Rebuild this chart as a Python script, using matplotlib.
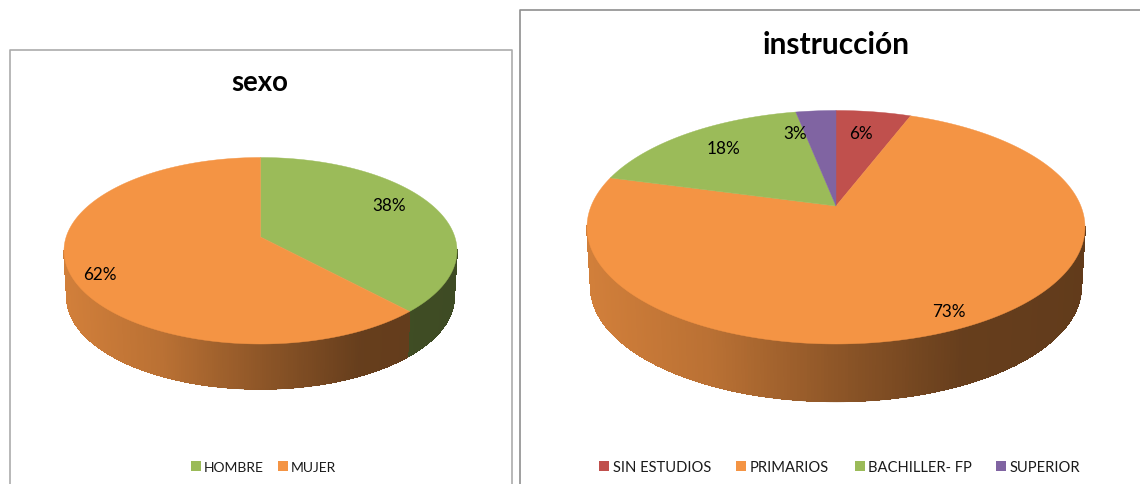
import numpy as np
import matplotlib
matplotlib.use('Agg')
import matplotlib.pyplot as plt
from matplotlib.collections import PolyCollection, LineCollection
from matplotlib.patches import Polygon, Rectangle
from matplotlib.colors import to_rgb

plt.rcParams['font.family'] = ['Lato', 'DejaVu Sans']

sexo_labels = ['HOMBRE', 'MUJER']
sexo_values = [38, 62]
sexo_colors = ['#9bbb59', '#f49444']

inst_labels = ['SIN ESTUDIOS', 'PRIMARIOS', 'BACHILLER- FP', 'SUPERIOR']
inst_values = [5.8, 73.4, 17.7, 3.1]
inst_colors = ['#c0504d', '#f49444', '#9bbb59', '#8064a2']

# brightness of the side wall, left to right over the pie's width
shade_pos = [0.0, 0.25, 0.5, 0.75, 1.0]
shade_val = [0.86, 0.76, 0.58, 0.42, 0.40]


def rim(theta, ax_x, ax_y, k, cx, cy, scale=1.0, dy=0.0):
    # circle seen in perspective, theta clockwise from 12 o'clock
    x = np.sin(theta)
    y = np.cos(theta)
    den = 1 + k * y
    return np.column_stack([cx + scale * ax_x * x / den, cy - scale * ax_y * y / den + dy])


def pie3d(ax, values, colors, cx, cy, rx, top, bottom, depth):
    k = (bottom - top) / (bottom + top)
    ax_y = top * (1 + k)
    ax_x = rx * np.sqrt(1 - k * k)
    edges = np.cumsum([0] + list(values)) / sum(values) * 2 * np.pi
    for i, col in enumerate(colors):
        # wall as thin strips so the colour can follow x
        th = np.linspace(edges[i], edges[i + 1], 400)
        th = th[np.cos(th) < -k + 0.01]  # front part only
        if len(th) < 2:
            continue
        upper = rim(th, ax_x, ax_y, k, cx, cy)
        lower = rim(th, ax_x, ax_y, k, cx, cy, scale=0.985, dy=depth)
        quads = np.stack([upper[:-1], upper[1:], lower[1:], lower[:-1]], axis=1)
        f = (quads[:, :, 0].mean(axis=1) - (cx - rx)) / (2 * rx)
        cols = np.outer(np.interp(f, shade_pos, shade_val), to_rgb(col))
        ax.add_collection(PolyCollection(quads, facecolors=cols, edgecolors=cols, linewidths=0.6,
                                         antialiaseds=False, zorder=2))
        # smooth the outer edge, the strips themselves are not antialiased
        segs = np.stack([lower[:-1], lower[1:]], axis=1)
        ax.add_collection(LineCollection(segs, colors=cols, linewidths=1.0, zorder=2))
    for i, col in enumerate(colors):
        th = np.linspace(edges[i], edges[i + 1], 300)
        pts = np.vstack([[cx, cy], rim(th, ax_x, ax_y, k, cx, cy)])
        ax.add_patch(Polygon(pts, closed=True, fc=col, ec=col, lw=0.3, zorder=3))


def legend(ax, labels, colors, box_x, text_x, y, size):
    for lab, col, bx, tx in zip(labels, colors, box_x, text_x):
        ax.add_patch(Rectangle((bx, y - 5), 10, 10, fc=col, ec='none', zorder=4))
        ax.text(tx, y + 1, lab, fontsize=size, color='#1a1a1a', va='center', ha='left', zorder=5)


fig = plt.figure(figsize=(11.4, 4.85), dpi=100)
ax = fig.add_axes([0, 0, 1, 1])

# chart frames, both run off the bottom of the screenshot
ax.plot([9.5, 9.5, 512, 512], [490, 51, 51, 490], color='#ababab', lw=1.2, zorder=1)
ax.plot([520, 520, 1145], [490, 10.5, 10.5], color='#8f8f8f', lw=1.2, zorder=1)

pie3d(ax, sexo_values, sexo_colors, 260.5, 238, 196.5, 79.5, 107, 46.5)
pie3d(ax, inst_values, inst_colors, 836, 207, 249, 95.5, 138, 59.5)

ax.text(260, 83, 'sexo', fontsize=19.8, fontweight='bold', ha='center', va='center', zorder=5)
ax.text(836, 45, 'instrucción', fontsize=21.5, fontweight='bold', ha='center', va='center', zorder=5)

sexo_label_xy = [(389, 206.5), (100, 275.5)]
inst_label_xy = [(861, 134), (949, 312), (723, 149), (795, 134)]
for vals, places in [(sexo_values, sexo_label_xy), (inst_values, inst_label_xy)]:
    for v, (x, y) in zip(vals, places):
        ax.text(x, y, '%.0f%%' % v, fontsize=12.3, ha='center', va='center', color='black', zorder=5)

legend(ax, sexo_labels, sexo_colors, [191, 278], [204, 291], 467, 10)
legend(ax, inst_labels, inst_colors, [599, 736, 855, 996], [613, 750, 868, 1010], 467, 10.6)

ax.set_xlim(0, 1140)
ax.set_ylim(485, 0)
ax.axis('off')
fig.savefig('out.png', dpi=100)
